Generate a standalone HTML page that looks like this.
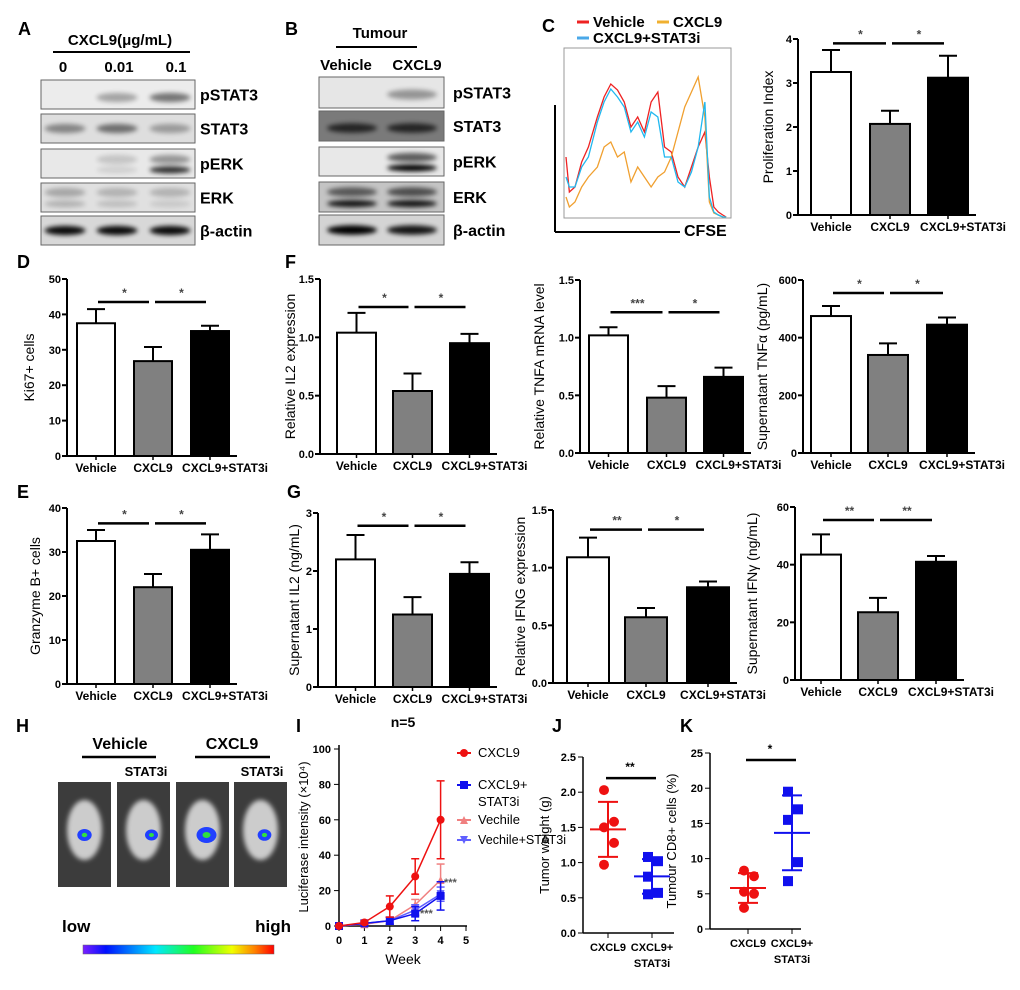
<!DOCTYPE html>
<html><head><meta charset="utf-8"><style>
body{margin:0;background:#fff}
svg{display:block;font-family:"Liberation Sans",Arial,sans-serif}
.t{font-size:12px;font-weight:bold}
.L{font-size:18px;font-weight:bold}
.bl{font-size:15px;font-weight:bold}
</style></head><body>
<svg id="fig" width="1020" height="990" viewBox="0 0 1020 990">
<defs>
<filter id="bl" x="-20%" y="-50%" width="140%" height="200%"><feGaussianBlur stdDeviation="2.5"/></filter>
<linearGradient id="cb" x1="0" x2="1"><stop offset="0" stop-color="#7a20ff"/><stop offset=".12" stop-color="#0010ff"/><stop offset=".38" stop-color="#00e8ff"/><stop offset=".58" stop-color="#20ff20"/><stop offset=".78" stop-color="#f0ff00"/><stop offset=".9" stop-color="#ff8000"/><stop offset="1" stop-color="#ff0000"/></linearGradient>
</defs>
<g id="root"></g>
</svg>
<script>
// ---- data ----
const groups=["Vehicle","CXCL9","CXCL9+STAT3i"];
const cVals=[3.25,2.07,3.12], cErr=[0.5,0.3,0.5];
const dVals=[37.5,26.8,35.3], dErr=[4,4,1.5];
const f1Vals=[1.04,0.54,0.95], f1Err=[0.17,0.15,0.08];
const f2Vals=[1.02,0.48,0.66], f2Err=[0.07,0.1,0.08];
const f3Vals=[475,340,445], f3Err=[35,40,25];
const eVals=[32.5,22,30.5], eErr=[2.5,3,3.5];
const g1Vals=[2.2,1.25,1.95], g1Err=[0.42,0.3,0.2];
const g2Vals=[1.09,0.57,0.83], g2Err=[0.17,0.08,0.05];
const g3Vals=[43.5,23.5,41], g3Err=[7,5,2];
const weeks=[0,1,2,3,4];
const iSeries=["CXCL9","CXCL9+STAT3i","Vechile","Vechile+STAT3i"];
const iCXCL9=[0,2,11,28,60], iCXCL9e=[0,1,6,10,22];
const iSTAT3i=[0,1.5,3,7,17], iSTAT3ie=[0,1,2,4,8];
const iVeh=[0,1,3,12,26], iVehe=[0,1,2,3,9];
const iVehS=[0,1.5,3,9,18], iVehSe=[0,1,2,3,4];
const jCXCL9=[2.03,1.58,1.5,1.28,0.97], jSTAT3i=[1.08,1.02,0.8,0.57,0.55];
const kCXCL9=[8.3,7.5,5.3,5.0,3.0], kSTAT3i=[19.5,17,15.5,9.5,6.8];

const NS="http://www.w3.org/2000/svg";
const root=document.getElementById('root');
function el(tag,attrs,parent,txt){const e=document.createElementNS(NS,tag);for(const k in attrs)e.setAttribute(k,attrs[k]);if(txt!==undefined)e.textContent=txt;(parent||root).appendChild(e);return e;}
function grp(name){const g=el('g',{},root);


return g;}
function txt(g,x,y,s,cls,anchor,name,extra){const t=el('text',Object.assign({x:x,y:y,class:cls||'t','text-anchor':anchor||'middle'},extra||{}),g,s);


return t;}

function barChart(name,o){
 const g=grp(name);
 const sy=v=>o.y0-(v/o.vmax)*(o.y0-o.yTop);
 const right=o.xs[2]+o.bw+8;
 el('line',{x1:o.ax,y1:o.y0,x2:o.ax,y2:o.yTop,stroke:'#000','stroke-width':2},g);
 el('line',{x1:o.ax,y1:o.y0,x2:right,y2:o.y0,stroke:'#000','stroke-width':2},g);
 o.ticks.forEach(t=>{const y=sy(t);el('line',{x1:o.ax-5,y1:y,x2:o.ax,y2:y,stroke:'#000','stroke-width':2},g);
  txt(g,o.ax-6,y+4,o.tl?o.tl(t):String(t),'t','end','y-tick',{style:'font-size:11px'});});
 const fills=['#fff','#808080','#000'];
 const shift=[0,0,15];
 o.vals.forEach((v,i)=>{const x=o.xs[i],y=sy(v),ye=sy(v+o.errs[i]);
  el('line',{x1:x+o.bw/2,y1:y,x2:x+o.bw/2,y2:ye,stroke:'#000','stroke-width':2},g);
  el('line',{x1:x+o.bw/2-9,y1:ye,x2:x+o.bw/2+9,y2:ye,stroke:'#000','stroke-width':2},g);
  const r=el('rect',{x:x,y:y,width:o.bw,height:o.y0-y,fill:fills[i],stroke:'#000','stroke-width':2},g);
  
  
  el('line',{x1:x+o.bw/2,y1:o.y0,x2:x+o.bw/2,y2:o.y0+4,stroke:'#000','stroke-width':1.5},g);
  txt(g,x+o.bw/2+shift[i],o.y0+16,groups[i],'t','middle','x-tick');
 });
 o.sig.forEach(s=>{const y=sy(s[2]);el('line',{x1:o.xs[s[0]]+o.bw/2+2,y1:y,x2:o.xs[s[1]]+o.bw/2-4,y2:y,stroke:'#000','stroke-width':2.5},g);
  txt(g,(o.xs[s[0]]+o.xs[s[1]])/2+o.bw/2,y-5,s[3],'t','middle','significance',{fill:'#444'});});
 const cy=(o.y0+o.yTop)/2, tx=o.tx;
 txt(g,tx,cy,o.ylab,'t','middle','y-axis-title',{transform:`rotate(-90 ${tx} ${cy})`,style:'font-size:14px;font-weight:normal'});
}
const f1=v=>v.toFixed(1);
barChart('chart-c-proliferation',{ax:798,y0:215,yTop:39,vmax:4,ticks:[0,1,2,3,4],xs:[811,870,928],bw:40,vals:cVals,errs:cErr,tx:773,ylab:'Proliferation Index',sig:[[0,1,3.9,'*'],[1,2,3.9,'*']]});
barChart('chart-d-ki67',{ax:67,y0:456,yTop:279,vmax:50,ticks:[0,10,20,30,40,50],xs:[77,134,191],bw:38,vals:dVals,errs:dErr,tx:34,ylab:'Ki67+ cells',sig:[[0,1,43.5,'*'],[1,2,43.5,'*']]});
barChart('chart-f-il2',{ax:320,y0:454,yTop:279,vmax:1.5,ticks:[0,0.5,1,1.5],tl:f1,xs:[337,393,450],bw:39,vals:f1Vals,errs:f1Err,tx:295,ylab:'Relative IL2 expression',sig:[[0,1,1.26,'*'],[1,2,1.26,'*']]});
barChart('chart-f-tnfa-mrna',{ax:580,y0:453,yTop:280,vmax:1.5,ticks:[0,0.5,1,1.5],tl:f1,xs:[589,647,704],bw:39,vals:f2Vals,errs:f2Err,tx:544,ylab:'Relative TNFA mRNA level',sig:[[0,1,1.22,'***'],[1,2,1.22,'*']]});
barChart('chart-f-tnfa-sup',{ax:803,y0:453,yTop:280,vmax:600,ticks:[0,200,400,600],xs:[811,868,927],bw:40,vals:f3Vals,errs:f3Err,tx:767,ylab:'Supernatant TNF\u03b1 (pg/mL)',sig:[[0,1,555,'*'],[1,2,555,'*']]});
barChart('chart-e-granzyme',{ax:67,y0:684,yTop:508,vmax:40,ticks:[0,10,20,30,40],xs:[77,134,191],bw:38,vals:eVals,errs:eErr,tx:40,ylab:'Granzyme B+ cells',sig:[[0,1,36.5,'*'],[1,2,36.5,'*']]});
barChart('chart-g-il2',{ax:318,y0:687,yTop:513,vmax:3,ticks:[0,1,2,3],xs:[336,393,450],bw:39,vals:g1Vals,errs:g1Err,tx:299,ylab:'Supernatant IL2 (ng/mL)',sig:[[0,1,2.78,'*'],[1,2,2.78,'*']]});
barChart('chart-g-ifng-expr',{ax:553,y0:683,yTop:510,vmax:1.5,ticks:[0,0.5,1,1.5],tl:f1,xs:[567,625,687],bw:42,vals:g2Vals,errs:g2Err,tx:525,ylab:'Relative IFNG expression',sig:[[0,1,1.33,'**'],[1,2,1.33,'*']]});
barChart('chart-g-ifng-sup',{ax:795,y0:680,yTop:507,vmax:60,ticks:[0,20,40,60],xs:[801,858,916],bw:40,vals:g3Vals,errs:g3Err,tx:757,ylab:'Supernatant IFN\u03b3 (ng/mL)',sig:[[0,1,55.5,'**'],[1,2,55.5,'**']]});

// panel letters
[['A',18,35],['B',285,35],['C',542,32],['D',17,268],['F',285,268],['E',17,498],['G',287,498],['H',16,732],['I',296,732],['J',552,732],['K',680,732]].forEach(a=>{const g=grp('panel-label-'+a[0].toLowerCase());txt(g,a[1],a[2],a[0],'L','start','panel-letter');});

// blots
function blot(name,x,w,rows,lanes,lx){const g=grp(name);
 rows.forEach(r=>{el('rect',{x:x,y:r.y,width:w,height:r.h,fill:r.bg,stroke:'#666','stroke-width':1},g);
  r.b.forEach((a,i)=>{if(a>0)el('ellipse',{cx:lanes[i],cy:r.y+r.h/2+(r.dy||0),rx:w/lanes.length*0.4,ry:r.h*0.16,fill:'#000',opacity:a,filter:'url(#bl)'},g);
   if(r.two&&r.two[i]>0)el('ellipse',{cx:lanes[i],cy:r.y+r.h*0.72,rx:w/lanes.length*0.4,ry:r.h*0.12,fill:'#000',opacity:r.two[i],filter:'url(#bl)'},g);});
  txt(g,lx,r.y+r.h/2+6,r.l,'bl','start','blot-label',{style:'font-size:16px'});});
 return g;}
const gA=blot('blot-a',41,154,[
 {y:80,h:29,bg:'#ececec',b:[0,0.3,0.5],l:'pSTAT3',dy:3},
 {y:114,h:29,bg:'#dedede',b:[0.4,0.5,0.3],l:'STAT3'},
 {y:149,h:29,bg:'#e8e8e8',b:[0,0.15,0.35],l:'pERK',two:[0,0.1,0.8],dy:-4},
 {y:183,h:29,bg:'#e0e0e0',b:[0.25,0.2,0.2],l:'ERK',two:[0.2,0.15,0.1],dy:-5},
 {y:216,h:29,bg:'#d8d8d8',b:[0.95,0.95,0.95],l:'\u03b2-actin'}],[65,117,170],200);
txt(gA,120,45,'CXCL9(\u03bcg/mL)','bl','middle','blot-a-title');
el('line',{x1:53,y1:52,x2:190,y2:52,stroke:'#000','stroke-width':2},gA);
[['0',63],['0.01',119],['0.1',176]].forEach(a=>txt(gA,a[1],72,a[0],'bl','middle','lane-label'));
const gB=blot('blot-b',319,125,[
 {y:77,h:31,bg:'#e6e6e6',b:[0,0.35],l:'pSTAT3',dy:2},
 {y:111,h:30,bg:'#7a7a7a',b:[0.7,0.7],l:'STAT3',dy:2},
 {y:147,h:29,bg:'#e8e8e8',b:[0,0.6],l:'pERK',two:[0,1],dy:-4},
 {y:182,h:30,bg:'#c4c4c4',b:[0.55,0.6],l:'ERK',two:[0.9,0.9],dy:-5},
 {y:215,h:30,bg:'#d4d4d4',b:[1,0.9],l:'\u03b2-actin'}],[352,412],453);
txt(gB,380,38,'Tumour','bl','middle','blot-b-title');
el('line',{x1:336,y1:47,x2:417,y2:47,stroke:'#000','stroke-width':2},gB);
txt(gB,346,70,'Vehicle','bl','middle','lane-label');txt(gB,417,70,'CXCL9','bl','middle','lane-label');

// panel C histogram
const gC=grp('chart-c-cfse-histogram');
el('rect',{x:564,y:48,width:167,height:170,fill:'none',stroke:'#999','stroke-width':1},gC);
el('line',{x1:555,y1:105,x2:555,y2:232,stroke:'#000','stroke-width':2},gC);
el('line',{x1:555,y1:232,x2:680,y2:232,stroke:'#000','stroke-width':2},gC);
txt(gC,684,236,'CFSE','bl','start','x-axis-title',{style:'font-size:16px'});
const histX=[0,3,8,14,20,28,34,40,46,52,58,64,70,76,82,88,94,100,106,112,118,124,128,132,136,140,143];
const hRed=[160,195,190,165,150,120,100,87,93,105,130,120,135,105,95,150,155,180,190,170,150,135,180,210,215,218,220];
const hBlue=[180,190,190,170,160,125,105,92,100,110,135,125,140,115,120,160,160,185,190,175,150,105,200,215,218,220,220];
const hOrg=[200,210,205,190,180,170,150,145,160,155,185,170,180,190,180,175,160,135,110,95,80,120,205,216,218,220,220];
[[hRed,'#ee2222'],[hOrg,'#f0a030'],[hBlue,'#20b8f0']].forEach(s=>{el('polyline',{points:histX.map((x,i)=>(566+x*1.12)+','+(s[0][i]-3)).join(' '),fill:'none',stroke:s[1],'stroke-width':1.3},gC);});
[['Vehicle',593,27,'#e22'],['CXCL9',673,27,'#f0b030'],['CXCL9+STAT3i',593,43,'#4aa8e8']].forEach(a=>{el('line',{x1:a[1]-16,y1:a[2]-5,x2:a[1]-4,y2:a[2]-5,stroke:a[3],'stroke-width':3},gC);txt(gC,a[1],a[2],a[0],'bl','start','legend-entry');});

// panel H
const gH=grp('panel-h-imaging');
txt(gH,120,749,'Vehicle','bl','middle','group-label',{style:'font-size:16px'});txt(gH,232,749,'CXCL9','bl','middle','group-label',{style:'font-size:16px'});
el('line',{x1:82,y1:757,x2:156,y2:757,stroke:'#000','stroke-width':2.5},gH);
el('line',{x1:195,y1:757,x2:270,y2:757,stroke:'#000','stroke-width':2.5},gH);
txt(gH,146,776,'STAT3i','t','middle','group-label',{style:'font-size:13px'});txt(gH,262,776,'STAT3i','t','middle','group-label',{style:'font-size:13px'});
[[58,53,0.6,0],[117,53,0.5,8],[176,53,1,4],[234,53,0.55,4]].forEach(m=>{el('rect',{x:m[0],y:782,width:m[1],height:105,fill:'#3c3c3c'},gH);
 el('ellipse',{cx:m[0]+m[1]/2,cy:830,rx:m[1]*0.33,ry:30,fill:'#ccc',filter:'url(#bl)'},gH);
 el('ellipse',{cx:m[0]+m[1]/2+m[3],cy:835,rx:7*m[2]+3,ry:5*m[2]+3,fill:'#2040ff'},gH);
 el('ellipse',{cx:m[0]+m[1]/2+m[3],cy:835,rx:3*m[2]+1,ry:2*m[2]+1,fill:'#30e040'},gH);});
txt(gH,62,932,'low','bl','start','colorbar-low',{style:'font-size:17px'});txt(gH,291,932,'high','bl','end','colorbar-high',{style:'font-size:17px'});
el('rect',{x:83,y:945,width:191,height:9,fill:'url(#cb)',stroke:'#666','stroke-width':0.5},gH);

// panel I line chart
const gI=grp('chart-i-luciferase');
const ix=w=>339+w*25.4, iy=v=>926-v*1.77;
el('line',{x1:339,y1:926,x2:339,y2:745,stroke:'#000','stroke-width':1.5},gI);
el('line',{x1:339,y1:926,x2:467,y2:926,stroke:'#000','stroke-width':1.5},gI);
[0,20,40,60,80,100].forEach(t=>{el('line',{x1:334,y1:iy(t),x2:339,y2:iy(t),stroke:'#000'},gI);txt(gI,331,iy(t)+4,String(t),'t','end','y-tick',{style:'font-size:11px'});});
[0,1,2,3,4,5].forEach(t=>{el('line',{x1:ix(t),y1:926,x2:ix(t),y2:931,stroke:'#000'},gI);txt(gI,ix(t),944,String(t),'t','middle','x-tick',{style:'font-size:11px'});});
txt(gI,403,964,'Week','bl','middle','x-axis-title',{style:'font-size:14px;font-weight:normal'});
txt(gI,403,727,'n=5','bl','middle','chart-title',{style:'font-size:14px'});
txt(gI,308,837,'Luciferase intensity (\u00d710\u2074)','t','middle','y-axis-title',{transform:'rotate(-90 308 837)',style:'font-size:13px;font-weight:normal'});
const iSets=[[iVeh,iVehe,'#f08080','tri'],[iVehS,iVehSe,'#6060ff','itri'],[iSTAT3i,iSTAT3ie,'#1010ee','sq'],[iCXCL9,iCXCL9e,'#ee1111','dot']];
function marker(g,x,y,type,c,s){s=s||4;
 if(type==='dot')return el('circle',{cx:x,cy:y,r:s,fill:c},g);
 if(type==='sq')return el('rect',{x:x-s,y:y-s,width:2*s,height:2*s,fill:c},g);
 if(type==='tri')return el('polygon',{points:`${x},${y-s} ${x-s},${y+s} ${x+s},${y+s}`,fill:c},g);
 return el('polygon',{points:`${x},${y+s} ${x-s},${y-s} ${x+s},${y-s}`,fill:c},g);}
iSets.forEach(s=>{el('polyline',{points:weeks.map((w,i)=>ix(w)+','+iy(s[0][i])).join(' '),fill:'none',stroke:s[2],'stroke-width':1.5},gI);
 weeks.forEach((w,i)=>{const x=ix(w);if(s[1][i]>0){el('line',{x1:x,y1:iy(s[0][i]-s[1][i]),x2:x,y2:iy(s[0][i]+s[1][i]),stroke:s[2],'stroke-width':1.5},gI);
  [s[0][i]-s[1][i],s[0][i]+s[1][i]].forEach(v=>el('line',{x1:x-4,y1:iy(v),x2:x+4,y2:iy(v),stroke:s[2],'stroke-width':1.5},gI));}
  const m=marker(gI,x,iy(s[0][i]),s[3],s[2]);
  
  });});
txt(gI,444,886,'***','t','start','significance',{fill:'#555',style:'font-size:11px'});txt(gI,420,917,'***','t','start','significance',{fill:'#555',style:'font-size:11px'});
[[iSeries[0],753,'#ee1111','dot'],[iSeries[1],785,'#1010ee','sq'],[iSeries[2],820,'#f08080','tri'],[iSeries[3],840,'#6060ff','itri']].forEach(a=>{
 el('line',{x1:457,y1:a[1],x2:471,y2:a[1],stroke:a[2],'stroke-width':2},gI);marker(gI,464,a[1],a[3],a[2]);});
const ls='font-size:13px;font-weight:normal';
txt(gI,478,757,'CXCL9','t','start','legend-entry',{style:ls});
txt(gI,478,789,'CXCL9+','t','start','legend-entry',{style:ls});
txt(gI,478,806,'STAT3i','t','start','legend-entry',{style:ls});
txt(gI,478,824,'Vechile','t','start','legend-entry',{style:ls});
txt(gI,478,844,'Vechile+STAT3i','t','start','legend-entry',{style:ls,textLength:88,lengthAdjust:'spacingAndGlyphs'});

// scatter J/K
function scatter(name,o){const g=grp(name);
 const sy=v=>o.y0-(v/o.vmax)*(o.y0-o.yTop);
 el('line',{x1:o.ax,y1:o.y0,x2:o.ax,y2:o.yTop,stroke:'#000','stroke-width':1.5},g);
 el('line',{x1:o.ax,y1:o.y0,x2:o.ax+91,y2:o.y0,stroke:'#000','stroke-width':1.5},g);
 o.ticks.forEach(t=>{el('line',{x1:o.ax-5,y1:sy(t),x2:o.ax,y2:sy(t),stroke:'#000'},g);txt(g,o.ax-7,sy(t)+4,o.tl?o.tl(t):String(t),'t','end','y-tick',{style:'font-size:11px'});});
 [[o.a,o.xa,'#ee1111','dot'],[o.b,o.xb,'#1010ee','sq']].forEach(s=>{
  const m=s[0].reduce((p,c)=>p+c,0)/s[0].length, sd=Math.sqrt(s[0].reduce((p,c)=>p+(c-m)*(c-m),0)/(s[0].length-1));
  el('line',{x1:s[1]-18,y1:sy(m),x2:s[1]+18,y2:sy(m),stroke:s[2],'stroke-width':2},g);
  el('line',{x1:s[1],y1:sy(m-sd),x2:s[1],y2:sy(m+sd),stroke:s[2],'stroke-width':2},g);
  [m-sd,m+sd].forEach(v=>el('line',{x1:s[1]-10,y1:sy(v),x2:s[1]+10,y2:sy(v),stroke:s[2],'stroke-width':2},g));
  s[0].forEach((v,i)=>{const p=marker(g,s[1]+((i%2)?6:-4),sy(v),s[3],s[2],5);
   
   });
  el('line',{x1:s[1],y1:o.y0,x2:s[1],y2:o.y0+5,stroke:'#000'},g);});
 txt(g,o.xa,o.y0+18,'CXCL9','t','middle','x-tick',{style:'font-size:11px'});txt(g,o.xb,o.y0+18,'CXCL9+','t','middle','x-tick',{style:'font-size:11px'});txt(g,o.xb,o.y0+34,'STAT3i','t','middle','x-tick',{style:'font-size:11px'});
 el('line',{x1:o.xa-2,y1:sy(o.sigv),x2:o.xb+4,y2:sy(o.sigv),stroke:'#000','stroke-width':2.5},g);
 txt(g,(o.xa+o.xb)/2,sy(o.sigv)-7,o.sig,'t','middle','significance');
 const cy=(o.y0+o.yTop)/2;txt(g,o.ax-34,cy,o.ylab,'t','middle','y-axis-title',{transform:`rotate(-90 ${o.ax-34} ${cy})`,style:'font-size:13px;font-weight:normal'});}
scatter('chart-j-tumor-weight',{ax:583,y0:933,yTop:757,vmax:2.5,ticks:[0,0.5,1,1.5,2,2.5],tl:f1,xa:608,xb:652,a:jCXCL9,b:jSTAT3i,sigv:2.2,sig:'**',ylab:'Tumor weight (g)'});
scatter('chart-k-cd8',{ax:710,y0:929,yTop:753,vmax:25,ticks:[0,5,10,15,20,25],xa:748,xb:792,a:kCXCL9,b:kSTAT3i,sigv:24,sig:'*',ylab:'Tumour CD8+ cells (%)'});
</script>
</body></html>
